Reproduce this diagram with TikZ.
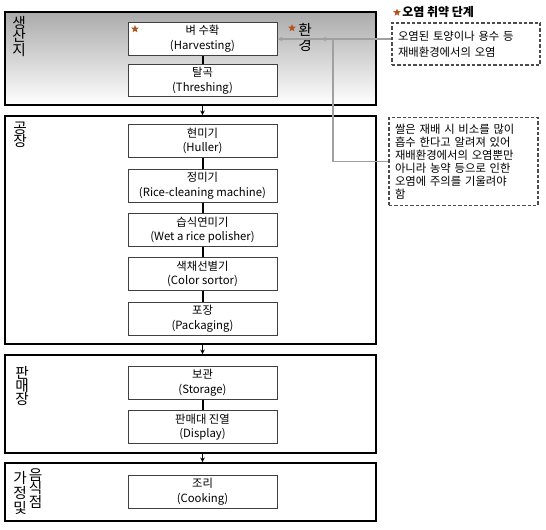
\documentclass[tikz,border=0pt]{standalone}
\usepackage{fontspec}
\setmainfont{Noto Sans CJK KR}
\usetikzlibrary{arrows.meta,shapes.geometric}
\definecolor{starc}{HTML}{B3541E}
\definecolor{conn}{HTML}{A0A0A0}
\begin{document}
\begin{tikzpicture}[x=0.75pt,y=-0.75pt,
 section/.style={draw=black,line width=1.2pt,minimum width=278.25pt,inner sep=0pt},
 stepbox/.style={draw=black!75,line width=0.6pt,fill=white,minimum width=111.75pt,minimum height=24.5pt,inner sep=0pt,align=center,font=\fontsize{8.5}{11}\selectfont},
 link/.style={draw=black,line width=1.5pt},
 flow/.style={draw=black,line width=0.8pt,-{Stealth[length=3.5pt,width=3.5pt]}},
 seclabel/.style={align=center,inner sep=0pt,font=\fontsize{11}{10}\selectfont},
 note/.style={draw=black!70,dash pattern=on 2.5pt off 1.5pt,line width=0.8pt,align=left,inner sep=4.5pt,font=\fontsize{8.5}{9.75}\selectfont},
 gline/.style={draw=conn,line width=1.1pt},
 garrow/.style={gline,-{Stealth[length=4pt,width=3.5pt]}},
 mark star/.style={star,star points=5,star point ratio=2.3,fill=starc,draw=none,minimum size=6pt,inner sep=0pt}
]
\useasboundingbox (0,0) rectangle (546,529);
% sections
\node[section,minimum height=69.75pt,shading=axis,top color=black!33,bottom color=white] (s1) at (190.5,58.5) {};
\node[section,minimum height=171pt] (s2) at (190.5,230) {};
\node[section,minimum height=73.5pt] (s3) at (190.5,404) {};
\node[section,minimum height=43.5pt] (s4) at (190.5,492) {};
% section labels
\node[seclabel] (l1) at (19,36.5) {생\\산\\지};
\node[seclabel] (l2) at (20,134.5) {공\\장};
\node[seclabel] (l3) at (22,386) {판\\매\\장};
\node[seclabel,font=\fontsize{11}{11}\selectfont] (l4a) at (20,493) {가\\정\\및};
\node[seclabel,font=\fontsize{11}{10.3}\selectfont] (l4b) at (35.5,488.5) {음\\식\\점};
% steps
\node[stepbox] (harv) at (202.5,39) {벼 수확\\(Harvesting)};
\node[stepbox] (thr) at (202.5,80.5) {탈곡\\(Threshing)};
\node[stepbox] (hul) at (202.5,141) {현미기\\(Huller)};
\node[stepbox] (ric) at (202.5,186) {정미기\\(Rice-cleaning machine)};
\node[stepbox] (wet) at (202.5,230) {습식연미기\\(Wet a rice polisher)};
\node[stepbox] (col) at (202.5,274) {색채선별기\\(Color sortor)};
\node[stepbox] (pak) at (202.5,319) {포장\\(Packaging)};
\node[stepbox] (sto) at (202.5,383) {보관\\(Storage)};
\node[stepbox] (dis) at (202.5,427) {판매대 진열\\(Display)};
\node[stepbox] (coo) at (202.5,492) {조리\\(Cooking)};
% links inside sections
\draw[link] (harv) -- (thr);
\draw[link] (hul) -- (ric);
\draw[link] (ric) -- (wet);
\draw[link] (wet) -- (col);
\draw[link] (col) -- (pak);
\draw[link] (sto) -- (dis);
% flow between sections
\draw[flow] (s1.south -| harv) -- (s2.north -| harv);
\draw[flow] (s2.south -| harv) -- (s3.north -| harv);
\draw[flow] (s3.south -| harv) -- (s4.north -| harv);
% stars
\node[mark star] (st1) at (135,29) {};
\node[mark star] (st2) at (292,28) {};
\node[seclabel,font=\fontsize{11}{9.5}\selectfont] (env) at (305,37.5) {환\\경};
% legend
\node[mark star] (st3) at (397,12.5) {};
\node[anchor=west,inner sep=0pt,font=\fontsize{9}{10}\selectfont\bfseries] (leg) at (402,12) {오염 취약 단계};
% notes
\node[note,minimum width=111pt,minimum height=31.5pt,text width=102pt,font=\fontsize{8.5}{12}\selectfont] (n1) at (466,44) {오염된 토양이나 용수 등\\재배환경에서의 오염};
\node[note,minimum width=111.75pt,minimum height=60.75pt,text width=102.75pt] (n2) at (463.5,161.5) {쌀은 재배 시 비소를 많이\\흡수 한다고 알려져 있어\\재배환경에서의 오염뿐만\\아니라 농약 등으로 인한\\오염에 주의를 기울려야\\함};
% gray connectors
\coordinate (j) at (333,39);
\coordinate (e) at (321,39);
\draw[garrow] (n1.west |- harv) -- (harv.east);
\draw[gline] (n2.west) -| (j);
\draw[garrow] (j) -- (e);
\end{tikzpicture}
\end{document}
